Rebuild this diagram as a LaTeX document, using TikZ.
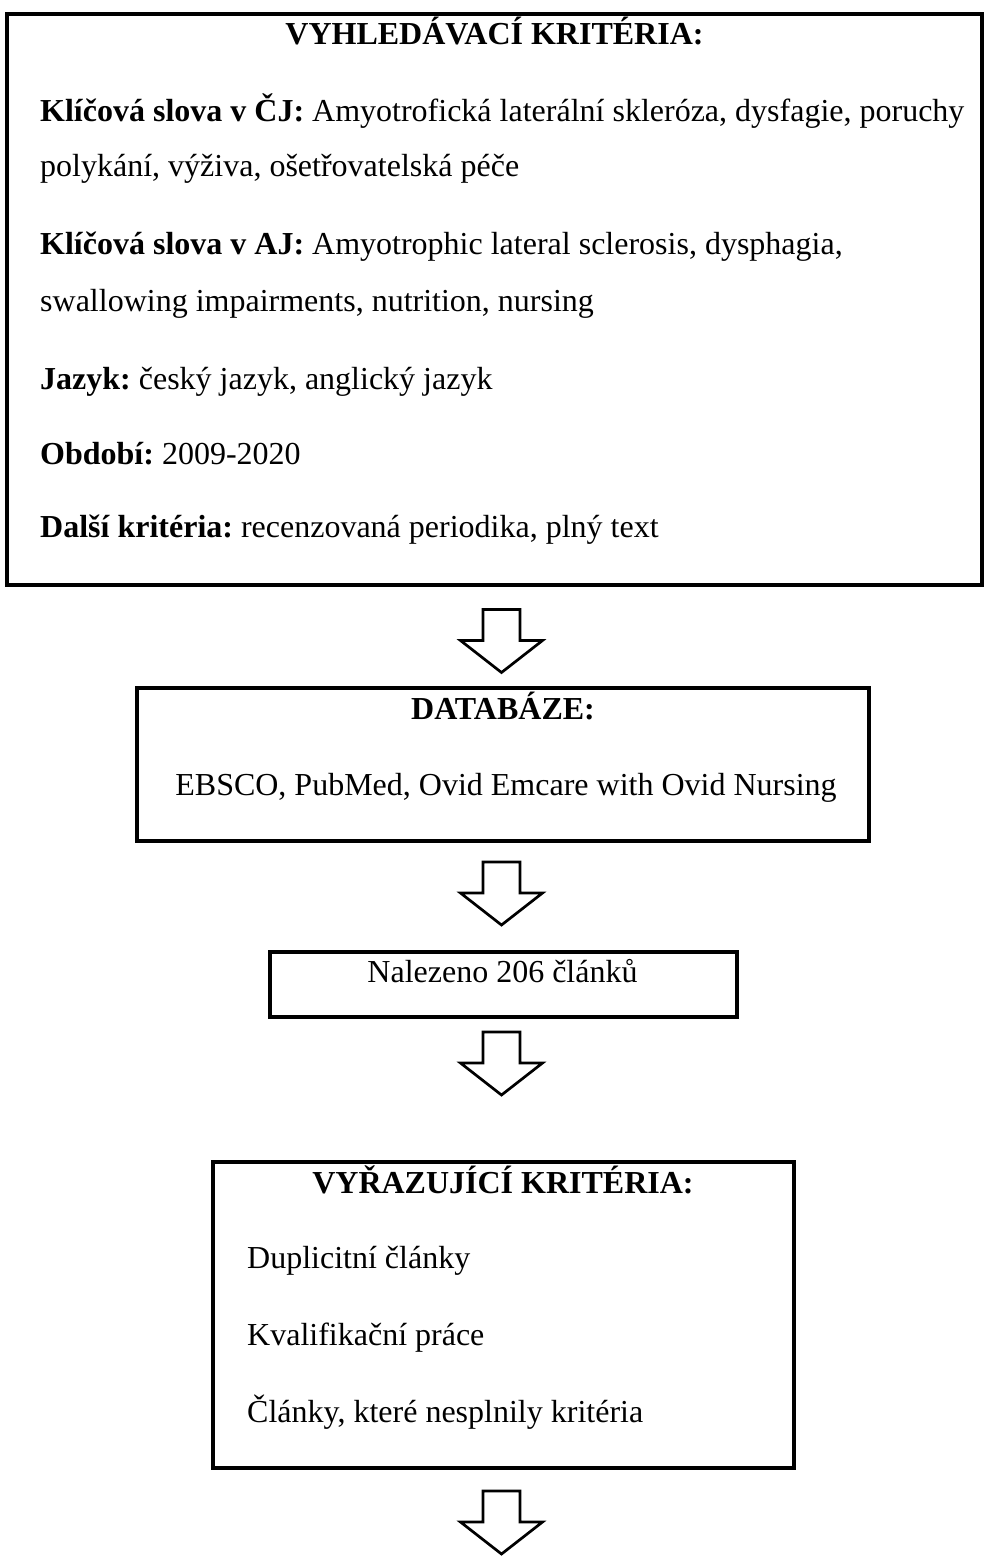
\documentclass[tikz,border=0pt]{standalone}
\usepackage{fontspec}
\setmainfont{Liberation Serif}
\usetikzlibrary{calc}
\frenchspacing

\begin{document}
\begin{tikzpicture}[
  x=1pt, y=-1pt,
  font=\fontsize{32}{38}\selectfont,
  box/.style={draw=black, line width=4pt, inner sep=0pt},
  ttl/.style={anchor=base, inner sep=0pt, font=\fontsize{32}{38}\selectfont\bfseries},
  txt/.style={anchor=base west, inner sep=0pt},
  mid/.style={anchor=base, inner sep=0pt},
  blk/.style={draw=black, line width=2.7pt, line join=miter, fill=white},
  downarrow/.pic={\draw[blk] (-18.5,0) -- (-18.5,31) -- (-41,31) -- (0,63) -- (41,31) -- (18.5,31) -- (18.5,0) -- cycle;}
]
\useasboundingbox (0,0) rectangle (986,1557);
% ---------------- boxes
\node[box, minimum width=975pt, minimum height=571pt] (crit) at (494.5, 299.5) {};
\node[box, minimum width=732pt, minimum height=153pt] (db) at (503, 764.5) {};
\node[box, minimum width=467pt, minimum height=65pt] (found) at (503.5, 984.5) {};
\node[box, minimum width=581pt, minimum height=306pt] (excl) at (503.5, 1315) {};
% ---------------- search criteria
\node[ttl] (critT) at (494.5, 45) {VYHLEDÁVACÍ KRITÉRIA:};
\node[txt] (kwcz) at (40, 122) {\textbf{Klíčová slova v ČJ:} Amyotrofická laterální skleróza, dysfagie, poruchy};
\node[txt] (kwcz2) at (40, 177) {polykání, výživa, ošetřovatelská péče};
\node[txt] (kwen) at (40, 254) {\textbf{Klíčová slova v AJ:} Amyotrophic lateral sclerosis, dysphagia,};
\node[txt] (kwen2) at (40, 311) {swallowing impairments, nutrition, nursing};
\node[txt] (lang) at (40, 389) {\textbf{Jazyk:} český jazyk, anglický jazyk};
\node[txt] (per) at (40, 464) {\textbf{Období:} 2009-2020};
\node[txt] (oth) at (40, 537) {\textbf{Další kritéria:} recenzovaná periodika, plný text};
% ---------------- databases
\node[ttl] (dbT) at (503, 719) {DATABÁZE:};
\node[mid] (dbL) at (506, 795) {EBSCO, PubMed, Ovid Emcare with Ovid Nursing};
% ---------------- found
\node[mid] (foundL) at (502.5, 982) {Nalezeno 206 článků};
% ---------------- exclusion criteria
\node[ttl] (exclT) at (503, 1193) {VYŘAZUJÍCÍ KRITÉRIA:};
\node[txt] (ex1) at (247, 1268) {Duplicitní články};
\node[txt] (ex2) at (247, 1345) {Kvalifikační práce};
\node[txt] (ex3) at (247, 1422) {Články, které nesplnily kritéria};
% ---------------- block arrows
\pic at ($(crit.south -| db.north)+(-1.5,22.5)$) {downarrow};
\pic at ($(db.south)+(-1.5,19)$) {downarrow};
\pic at ($(found.south)+(-2,13)$) {downarrow};
\pic at ($(excl.south)+(-2,21)$) {downarrow};
\end{tikzpicture}
\end{document}
